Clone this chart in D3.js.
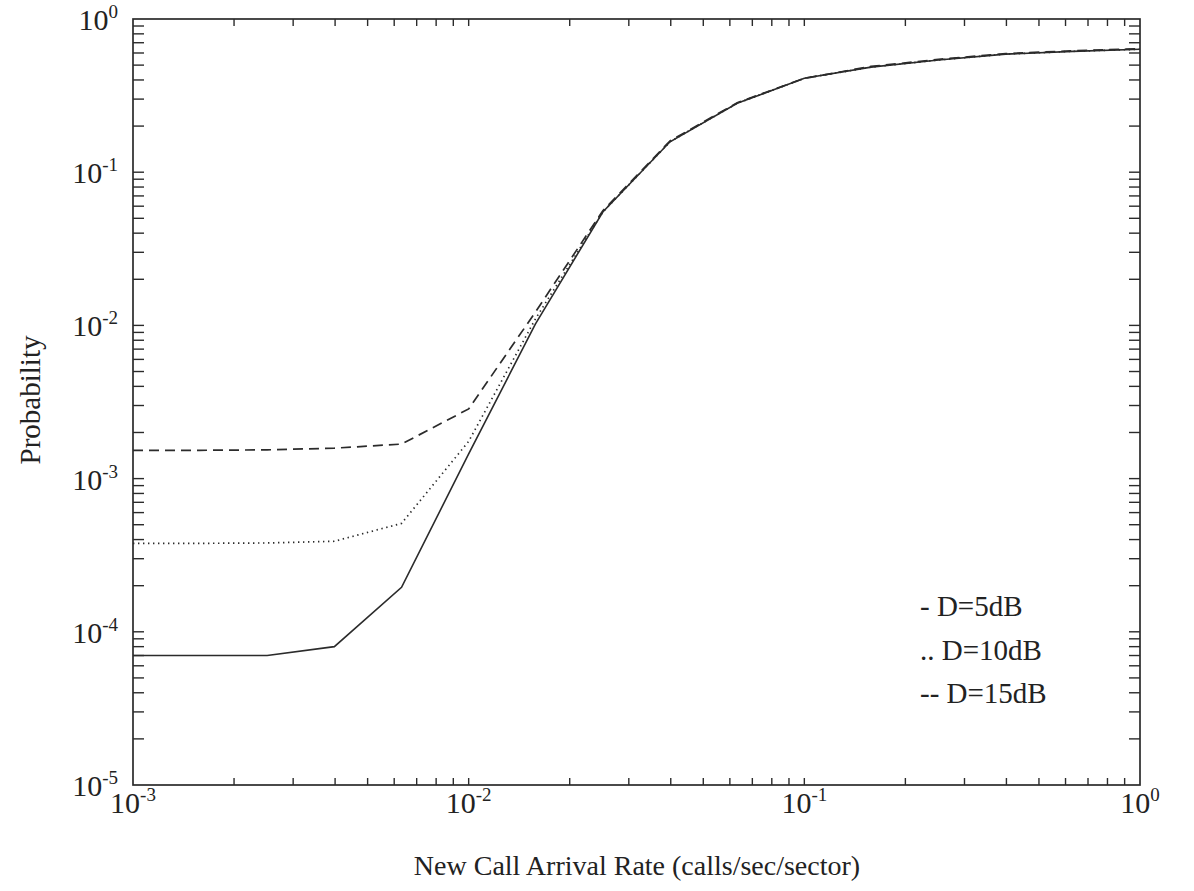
<!DOCTYPE html>
<html>
<head>
<meta charset="utf-8">
<script src="https://cdn.jsdelivr.net/npm/d3@7"></script>
<style>
  html, body { margin: 0; padding: 0; background: #fff; }
  svg { display: block; }
  text { font-family: "Liberation Serif", "Times New Roman", serif; fill: #222; }
</style>
</head>
<body>
<svg id="chart" width="1194" height="891"></svg>
<script>
// ---- data ----
const arrivalRates = [0.001, 0.00158, 0.00251, 0.00398, 0.00631, 0.01, 0.0158, 0.0251, 0.0398, 0.0631, 0.1, 0.158, 0.251, 0.398, 0.631, 1.0];
const probD5  = [7.0e-5, 7.0e-5, 7.0e-5, 8.0e-5, 1.95e-4, 1.45e-3, 1.02e-2, 5.5e-2, 0.158, 0.282, 0.41, 0.485, 0.54, 0.59, 0.615, 0.635];
const probD10 = [3.78e-4, 3.78e-4, 3.8e-4, 3.9e-4, 5.1e-4, 1.75e-3, 1.1e-2, 5.5e-2, 0.158, 0.282, 0.41, 0.485, 0.54, 0.59, 0.615, 0.635];
const probD15 = [1.53e-3, 1.53e-3, 1.54e-3, 1.58e-3, 1.68e-3, 2.85e-3, 1.22e-2, 5.6e-2, 0.16, 0.284, 0.41, 0.49, 0.545, 0.595, 0.62, 0.64];
const xTickExps = [-3, -2, -1, 0];
const yTickExps = [0, -1, -2, -3, -4, -5];
const legendLabels = ["- D=5dB", ".. D=10dB", "-- D=15dB"];
const xTitle = "New Call Arrival Rate (calls/sec/sector)";
const yTitle = "Probability";

(function () {
// ---- layout ----
const pLeft = 133, pRight = 1140, pTop = 19, pBottom = 785;
const svg = d3.select("#chart");
const x = d3.scaleLog().domain([1e-3, 1]).range([pLeft, pRight]);
const y = d3.scaleLog().domain([1e-5, 1]).range([pBottom, pTop]);
const ink = "#2b2b2b";

function logTicks(lo, hi) {
  const t = [];
  for (let e = lo; e < hi; e++) for (let m = 1; m <= 9; m++) t.push(m * Math.pow(10, e));
  t.push(Math.pow(10, hi));
  return t;
}
const xt = logTicks(-3, 0).filter(v => v > 1e-3 * 1.0001 && v < 0.9999);
const yt = logTicks(-5, 0).filter(v => v > 1e-5 * 1.0001 && v < 0.9999);

const g = svg.append("g");
g.selectAll(".xb").data(xt).enter().append("line")
  .attr("x1", d => x(d)).attr("x2", d => x(d))
  .attr("y1", pBottom).attr("y2", pBottom - 7)
  .attr("stroke", ink).attr("stroke-width", 1.4);
g.selectAll(".xt").data(xt).enter().append("line")
  .attr("x1", d => x(d)).attr("x2", d => x(d))
  .attr("y1", pTop).attr("y2", pTop + 7)
  .attr("stroke", ink).attr("stroke-width", 1.4);
g.selectAll(".yl").data(yt).enter().append("line")
  .attr("x1", pLeft).attr("x2", pLeft + 11)
  .attr("y1", d => y(d)).attr("y2", d => y(d))
  .attr("stroke", ink).attr("stroke-width", 1.4);
g.selectAll(".yr").data(yt).enter().append("line")
  .attr("x1", pRight).attr("x2", pRight - 11)
  .attr("y1", d => y(d)).attr("y2", d => y(d))
  .attr("stroke", ink).attr("stroke-width", 1.4);

svg.append("rect")
  .attr("x", pLeft).attr("y", pTop)
  .attr("width", pRight - pLeft).attr("height", pBottom - pTop)
  .attr("fill", "none").attr("stroke", ink).attr("stroke-width", 1.7);

function powLabel(sel, e) {
  sel.append("tspan").text("10");
  sel.append("tspan").text(String(e)).attr("font-size", 19).attr("dy", -12);
}
xTickExps.forEach(e => {
  const t = svg.append("text")
    .attr("x", x(Math.pow(10, e))).attr("y", 813)
    .attr("text-anchor", "middle").attr("font-size", 30);
  powLabel(t, e);
});
yTickExps.forEach(e => {
  const t = svg.append("text")
    .attr("x", 118).attr("y", y(Math.pow(10, e)) + 11)
    .attr("text-anchor", "end").attr("font-size", 30);
  powLabel(t, e);
});

svg.append("text")
  .attr("x", 637).attr("y", 875)
  .attr("text-anchor", "middle").attr("font-size", 28)
  .text(xTitle);
svg.append("text")
  .attr("transform", "translate(40,400) rotate(-90)")
  .attr("text-anchor", "middle").attr("font-size", 29)
  .text(yTitle);

const series = [
  { vals: probD5,  dash: null,      w: 1.6 },
  { vals: probD10, dash: "1.4,3.6", w: 1.7 },
  { vals: probD15, dash: "10,6",    w: 1.7 }
];
const line = d3.line().x(d => x(d[0])).y(d => y(d[1]));
series.forEach(s => {
  const pts = arrivalRates.map((r, i) => [r, s.vals[i]]);
  const p = svg.append("path").datum(pts)
    .attr("d", line).attr("fill", "none")
    .attr("stroke", ink).attr("stroke-width", s.w);
  if (s.dash) p.attr("stroke-dasharray", s.dash);
});

const legendY = [616, 660, 703];
legendLabels.forEach((l, i) => {
  svg.append("text")
    .attr("x", 920).attr("y", legendY[i])
    .attr("font-size", 29).text(l);
});
})();
</script>
</body>
</html>
